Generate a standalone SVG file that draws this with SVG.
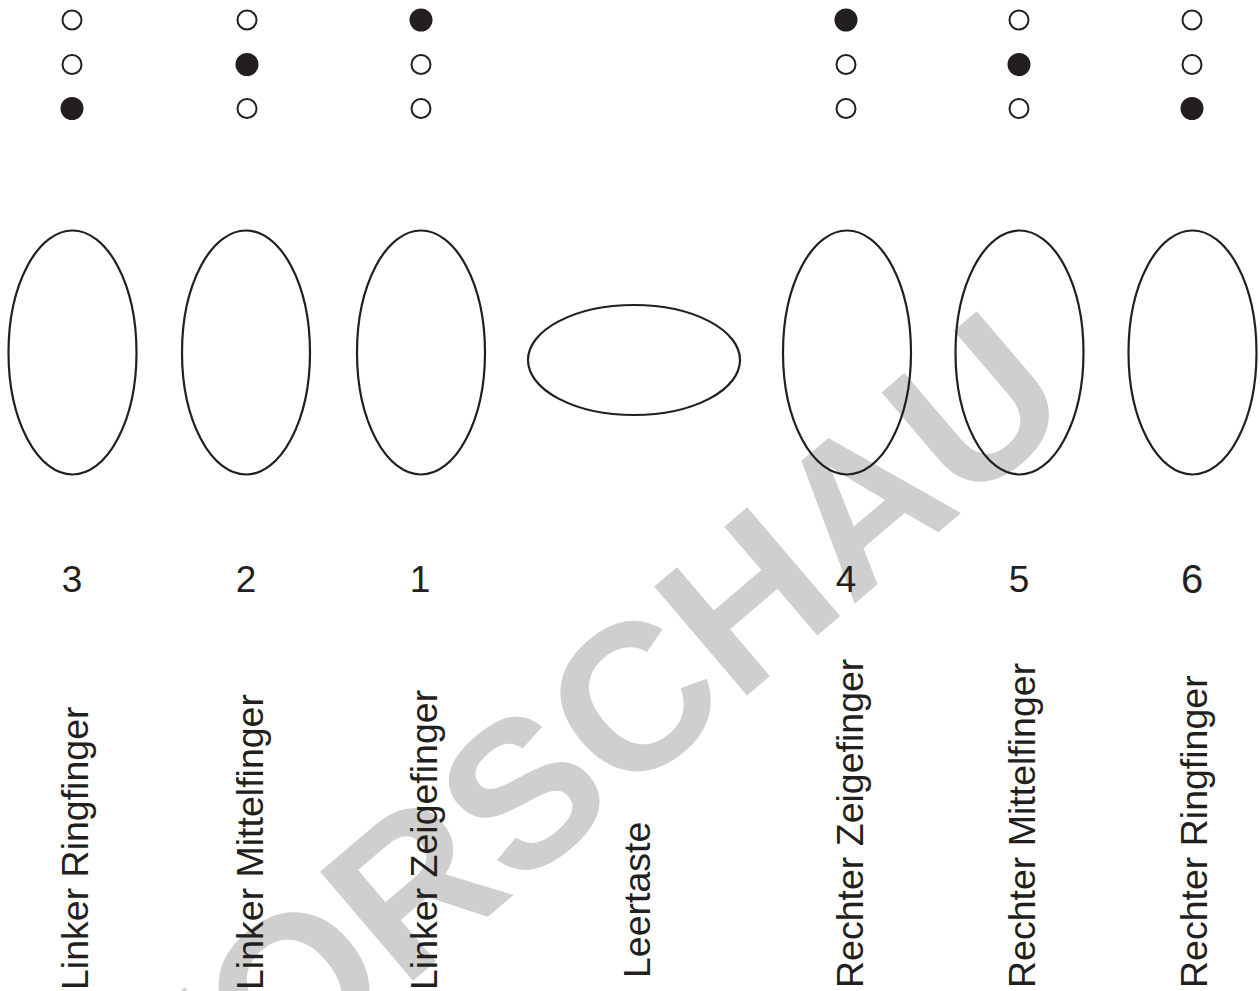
<svg xmlns="http://www.w3.org/2000/svg" width="1260" height="991" viewBox="0 0 1260 991">
  <style>
    .dot { fill: none; stroke: #231f20; stroke-width: 2; }
    .dot.on { fill: #231f20; }
    .key { fill: none; stroke: #231f20; stroke-width: 2.2; }
    .num { font-family: "Liberation Sans", Arial, sans-serif; font-size: 37px; fill: #231f20; text-anchor: middle; }
    .lbl { font-family: "Liberation Sans", Arial, sans-serif; font-size: 37.5px; fill: #231f20; }
    .wm { font-family: "Liberation Sans", Arial, sans-serif; font-weight: bold; font-size: 208px; fill: #cfcfcf; }
  </style>
  <rect width="1260" height="991" fill="#ffffff"/>

  <text class="wm" transform="translate(174,1185) rotate(-40.5)" x="0" y="0">VORSCHAU</text>

  <g id="braille">
    <circle class="dot" cx="72" cy="20" r="9.5"/>
    <circle class="dot" cx="72" cy="64.5" r="9.5"/>
    <circle class="dot on" cx="72" cy="108.5" r="10.5"/>
    <circle class="dot" cx="247" cy="20" r="9.5"/>
    <circle class="dot on" cx="247" cy="64.5" r="10.5"/>
    <circle class="dot" cx="247" cy="108.5" r="9.5"/>
    <circle class="dot on" cx="421" cy="20" r="10.5"/>
    <circle class="dot" cx="421" cy="64.5" r="9.5"/>
    <circle class="dot" cx="421" cy="108.5" r="9.5"/>
    <circle class="dot on" cx="846" cy="20" r="10.5"/>
    <circle class="dot" cx="846" cy="64.5" r="9.5"/>
    <circle class="dot" cx="846" cy="108.5" r="9.5"/>
    <circle class="dot" cx="1019" cy="20" r="9.5"/>
    <circle class="dot on" cx="1019" cy="64.5" r="10.5"/>
    <circle class="dot" cx="1019" cy="108.5" r="9.5"/>
    <circle class="dot" cx="1192" cy="20" r="9.5"/>
    <circle class="dot" cx="1192" cy="64.5" r="9.5"/>
    <circle class="dot on" cx="1192" cy="108.5" r="10.5"/>
  </g>

  <g id="key-linker-ringfinger">
    <ellipse class="key" cx="72.5" cy="352.5" rx="64" ry="122"/>
    <text class="num" x="72" y="592">3</text>
    <text class="lbl" transform="translate(88,990) rotate(-90)">Linker Ringfinger</text>
  </g>
  <g id="key-linker-mittelfinger">
    <ellipse class="key" cx="246" cy="352.5" rx="64" ry="122"/>
    <text class="num" x="246" y="592">2</text>
    <text class="lbl" transform="translate(263,990) rotate(-90)">Linker Mittelfinger</text>
  </g>
  <g id="key-linker-zeigefinger">
    <ellipse class="key" cx="421" cy="352.5" rx="64" ry="122"/>
    <text class="num" x="420" y="592">1</text>
    <text class="lbl" transform="translate(437,990) rotate(-90)">Linker Zeigefinger</text>
  </g>
  <g id="key-leertaste">
    <ellipse class="key" cx="634" cy="360" rx="106" ry="55"/>
    <text class="lbl" transform="translate(650,978) rotate(-90)">Leertaste</text>
  </g>
  <g id="key-rechter-zeigefinger">
    <ellipse class="key" cx="847" cy="352.5" rx="64" ry="122"/>
    <text class="num" x="846" y="592">4</text>
    <text class="lbl" transform="translate(863,988) rotate(-90)">Rechter Zeigefinger</text>
  </g>
  <g id="key-rechter-mittelfinger">
    <ellipse class="key" cx="1019.5" cy="352.5" rx="64" ry="122"/>
    <text class="num" x="1019" y="592">5</text>
    <text class="lbl" transform="translate(1035,988) rotate(-90)">Rechter Mittelfinger</text>
  </g>
  <g id="key-rechter-ringfinger">
    <ellipse class="key" cx="1192.5" cy="352.5" rx="64" ry="122"/>
    <text class="num" x="1192" y="593" style="font-size:40px">6</text>
    <text class="lbl" transform="translate(1207,988) rotate(-90)">Rechter Ringfinger</text>
  </g>

  <g id="connectors"></g>
</svg>
